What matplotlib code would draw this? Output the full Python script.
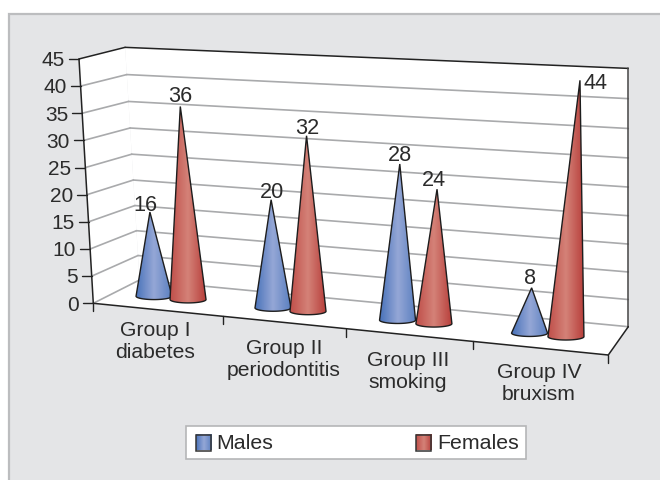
import numpy as np
import matplotlib
matplotlib.use("Agg")
import matplotlib.pyplot as plt
from matplotlib.patches import Rectangle, Polygon
from matplotlib.colors import LinearSegmentedColormap

categories = ["Group I\ndiabetes", "Group II\nperiodontitis", "Group III\nsmoking", "Group IV\nbruxism"]
males = [16, 20, 28, 8]
females = [36, 32, 24, 44]
yticks = [0, 5, 10, 15, 20, 25, 30, 35, 40, 45]
series_names = ["Males", "Females"]

# Perspective frame of the chart, in figure pixels
FL, BL = np.array([93.3, 303.3]), np.array([139.5, 280.0])
FR, BR = np.array([608.3, 355.0]), np.array([628.3, 326.7])
UP_FL, UP_BL = np.array([-0.318, -5.43]), np.array([-0.32, -5.17])
UP_FR, UP_BR = np.array([0.74, -6.02]), np.array([0.0, -5.74])
VMAX = 45.0
NCAT = len(categories)
CAT_FRACTION = [0, 0.2513, 0.4907, 0.7367, 1.0]


def project(u, d, v):
    """u: category axis, d: depth 0-1, v: value."""
    f = np.interp(u, np.arange(NCAT + 1), CAT_FRACTION)
    front = FL + (FR - FL) * f
    back = BL + (BR - BL) * f
    floor = front + (back - front) * d
    up_front = UP_FL + (UP_FR - UP_FL) * f
    up_back = UP_BL + (UP_BR - UP_BL) * f
    up = up_front + (up_back - up_front) * d
    warp = v + 0.00133 * d * v * (v - VMAX)
    return floor + up * warp


plt.rcParams["font.family"] = ["Liberation Sans", "DejaVu Sans"]
fig = plt.figure(figsize=(6.6, 4.8), dpi=100, facecolor="white")
ax = fig.add_axes([0, 0, 1, 1])
ax.set_xlim(0, 660)
ax.set_ylim(480, 0)
ax.axis("off")

TXT = "#2b2b2b"
ax.add_patch(Rectangle((9, 14), 660, 480, fc="#e4e5e7", ec="#bcbdbf", lw=1.6, zorder=0))

# back wall
wall = [project(0, 1, 0), project(NCAT, 1, 0), project(NCAT, 1, VMAX), project(0, 1, VMAX)]
ax.add_patch(Polygon(wall, fc="white", ec="none", zorder=1))
# left wall
wall = [project(0, 0, 0), project(0, 1, 0), project(0, 1, VMAX), project(0, 0, VMAX)]
ax.add_patch(Polygon(wall, fc="white", ec="none", zorder=1))
# floor
wall = [project(0, 0, 0), project(NCAT, 0, 0), project(NCAT, 1, 0), project(0, 1, 0)]
ax.add_patch(Polygon(wall, fc="white", ec="none", zorder=1))


def seg(a, b, **kw):
    ax.plot([a[0], b[0]], [a[1], b[1]], solid_capstyle="round", **kw)


for v in yticks:
    col, lw = ("#a9aaac", 1.2) if v != VMAX else ("#222222", 1.1)
    seg(project(0, 0, v), project(0, 1, v), color=col, lw=lw, zorder=2)
    seg(project(0, 1, v), project(NCAT, 1, v), color=col, lw=lw, zorder=2)
    p = project(0, 0, v)
    seg(p, p + np.array([-10, 0]), color="#222222", lw=1.0, zorder=3)
    ax.text(p[0] - 14, p[1] + 1.8, str(v), ha="right", va="center", fontsize=15, color=TXT, zorder=5)

seg(project(0, 0, 0), project(0, 0, VMAX), color="#222222", lw=1.1, zorder=3)
seg(project(NCAT, 1, 0), project(NCAT, 1, VMAX), color="#444444", lw=1.1, zorder=3)
seg(project(0, 0, 0), project(NCAT, 0, 0), color="#222222", lw=1.1, zorder=3)
seg(project(NCAT, 0, 0), project(NCAT, 1, 0), color="#222222", lw=1.1, zorder=3)

label_xy = [(155, 342), (284, 359), (408, 371), (539, 384)]
for i in range(NCAT + 1):
    p = project(i, 0, 0)
    seg(p, p + np.array([0, 8]), color="#222222", lw=1.0, zorder=3)
for name, xy in zip(categories, label_xy):
    ax.text(xy[0], xy[1], name, ha="center", va="center", fontsize=15.2, color=TXT,
            linespacing=1.2, zorder=5)

blue = LinearSegmentedColormap.from_list("b", ["#4a73ba", "#95a7d6", "#5b80c0"])
red = LinearSegmentedColormap.from_list("r", ["#c04f4a", "#d48278", "#b8403c"])
grad = np.linspace(0, 1, 64)[None, :]
DEPTH = 0.47
RX, RY = 18.0, 3.4
OFFS = [[0.309, 0.263, 0.29, 0.334], [0.578, 0.554, 0.584, 0.609]]
label_off = {(0, 0): (-4.4, -6.4), (0, 1): (-0.3, -9.5), (1, 0): (0.6, -7.5), (1, 1): (1, -7),
             (2, 0): (0, -8.5), (2, 1): (-3, -8.7), (3, 0): (-1.3, -9), (3, 1): (15.7, 3.4)}


def cone(i, s, value, cmap, z):
    base = project(i + OFFS[s][i], DEPTH, 0)
    apex = project(i + OFFS[s][i], DEPTH, value)
    t = np.linspace(np.pi, 0, 40)
    arc = np.c_[base[0] + RX * np.cos(t), base[1] + RY * np.sin(t)]
    pts = np.vstack([[apex], arc])
    poly = Polygon(pts, closed=True, fc="none", ec="#1d1d1d", lw=1.0, zorder=z + 0.1, joinstyle="miter")
    im = ax.imshow(grad, cmap=cmap, extent=[base[0] - RX, base[0] + RX, 0, 480], aspect="auto",
                   zorder=z, interpolation="bilinear")
    clip = Polygon(pts, closed=True, transform=ax.transData)
    im.set_clip_path(clip)
    ax.add_patch(poly)
    dx, dy = label_off[(i, s)]
    ax.text(apex[0] + dx, apex[1] + dy, str(value), ha="center", va="center", fontsize=15.6, color=TXT, zorder=30)


for i in range(NCAT):
    cone(i, 0, males[i], blue, 6 + 2 * i)
    cone(i, 1, females[i], red, 7 + 2 * i)

ax.set_xlim(0, 660)
ax.set_ylim(480, 0)

# legend
ax.add_patch(Rectangle((185.5, 426.3), 340, 33, fc="white", ec="#b5b6b7", lw=1.2, zorder=20))
for x, cmap, name, tx in [(195.5, blue, series_names[0], 216), (415.5, red, series_names[1], 437)]:
    ax.imshow(grad, cmap=cmap, extent=[x, x + 15.2, 450.5, 435], aspect="auto", zorder=21)
    ax.add_patch(Rectangle((x, 435), 15.2, 15.5, fc="none", ec="#333333", lw=1.1, zorder=22))
    ax.text(tx, 443.3, name, ha="left", va="center", fontsize=15.4, color=TXT, zorder=22)

ax.set_xlim(0, 660)
ax.set_ylim(480, 0)
fig.savefig("out.png", dpi=100, facecolor="white")
